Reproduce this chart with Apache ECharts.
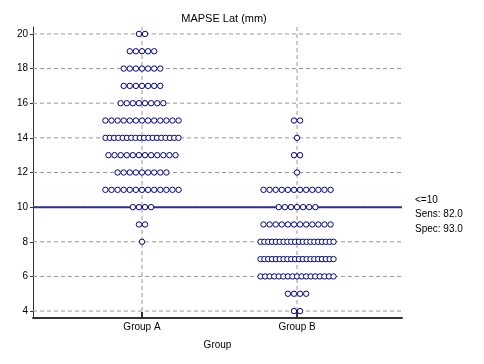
<!DOCTYPE html>
<html><head><meta charset="utf-8">
<script src="https://cdn.jsdelivr.net/npm/echarts@6/dist/echarts.min.js"></script>
<style>html,body{margin:0;padding:0;background:#fff}#c{width:484px;height:364px}</style>
</head><body><div id="c"></div>
<script>
const categories = ['Group A', 'Group B'];
const levelsA = [20, 19, 18, 17, 16, 15, 14, 13, 12, 11, 10, 9, 8];
const countsA = [2, 5, 7, 7, 8, 13, 18, 12, 9, 13, 4, 2, 1];
const levelsB = [15, 14, 13, 12, 11, 10, 9, 8, 7, 6, 5, 4];
const countsB = [2, 1, 2, 1, 12, 7, 12, 20, 20, 17, 4, 2];
const yTicks = [4, 6, 8, 10, 12, 14, 16, 18, 20];
const cutoff = 10;
const annotation = ['<=10', 'Sens: 82.0', 'Spec: 93.0'];

const font = 'Liberation Sans, Arial, sans-serif';
const pts = [];
[[levelsA, countsA], [levelsB, countsB]].forEach(function (g, gi) {
  g[0].forEach(function (lv, k) {
    const n = g[1][k];
    for (let i = 0; i < n; i++) pts.push([gi + 1, lv, i, n]);
  });
});

const chart = echarts.init(document.getElementById('c'));
chart.setOption({
  animation: false,
  title: { text: 'MAPSE Lat (mm)', left: 219, top: 8, textAlign: 'center',
    textStyle: { fontFamily: font, fontSize: 11, fontWeight: 'normal', color: '#000' } },
  grid: { left: 33, right: 82, top: 27, bottom: 46 },
  xAxis: {
    type: 'value', min: 0.297, max: 2.677, interval: 1,
    name: 'Group', nameLocation: 'middle', nameGap: 22,
    nameTextStyle: { fontFamily: font, fontSize: 10, color: '#000' },
    axisLine: { lineStyle: { color: '#333', width: 2 } },
    axisTick: { show: false },
    splitLine: { show: false },
    axisLabel: { show: false }
  },
  yAxis: {
    type: 'value', min: 3.6, max: 20.4,
    axisLine: { show: true, lineStyle: { color: '#333', width: 1 } },
    axisTick: { show: true, length: 3, lineStyle: { color: '#333' }, customValues: yTicks },
    axisLabel: { fontFamily: font, fontSize: 10, color: '#000', margin: 5, customValues: yTicks },
    splitLine: { show: false }
  },
  graphic: annotation.map(function (t, i) {
    return { type: 'text', left: 415, top: 195 + i * 14.5,
      style: { text: t, font: '10px ' + font, fill: '#000' } };
  }),
  series: [
    {
      type: 'custom',
      silent: true,
      z: 1,
      renderItem: function (params, api) {
        const area = params.coordSys;
        const children = [];
        yTicks.forEach(function (v) {
          const p = api.coord([0.297, v]);
          children.push({ type: 'line', shape: { x1: area.x, y1: p[1], x2: area.x + area.width, y2: p[1] },
            style: { stroke: '#999', lineWidth: 1, lineDash: [4, 3] } });
        });
        categories.forEach(function (c, i) {
          const p = api.coord([i + 1, 3.6]);
          children.push({ type: 'line', shape: { x1: p[0], y1: area.y, x2: p[0], y2: area.y + area.height },
            style: { stroke: '#999', lineWidth: 1, lineDash: [4, 3] } });
          children.push({ type: 'line', shape: { x1: p[0], y1: area.y + area.height - 6, x2: p[0], y2: area.y + area.height },
            style: { stroke: '#333', lineWidth: 2 } });
          children.push({ type: 'text', x: p[0], y: area.y + area.height + 4,
            style: { text: c, font: '10px ' + font, fill: '#000', align: 'center', verticalAlign: 'top' } });
        });
        const q = api.coord([0.297, cutoff]);
        children.push({ type: 'line', shape: { x1: area.x, y1: q[1], x2: area.x + area.width, y2: q[1] },
          style: { stroke: '#2E3192', lineWidth: 2 }, z2: 100 });
        return { type: 'group', children: children };
      },
      data: [[0, 0]],
      encode: { x: 0, y: 1 }
    },
    {
      type: 'custom',
      silent: true,
      z: 2,
      renderItem: function (params, api) {
        const c = api.coord([api.value(0), api.value(1)]);
        const i = api.value(2), n = api.value(3);
        const sp = n > 13 ? 73 / (n - 1) : 6.1;
        return { type: 'circle', shape: { cx: c[0] + (i - (n - 1) / 2) * sp, cy: c[1], r: 2.7 },
          style: { fill: '#fff', stroke: '#00008B', lineWidth: 1 } };
      },
      data: pts,
      encode: { x: 0, y: 1 }
    }
  ]
});
</script></body></html>
